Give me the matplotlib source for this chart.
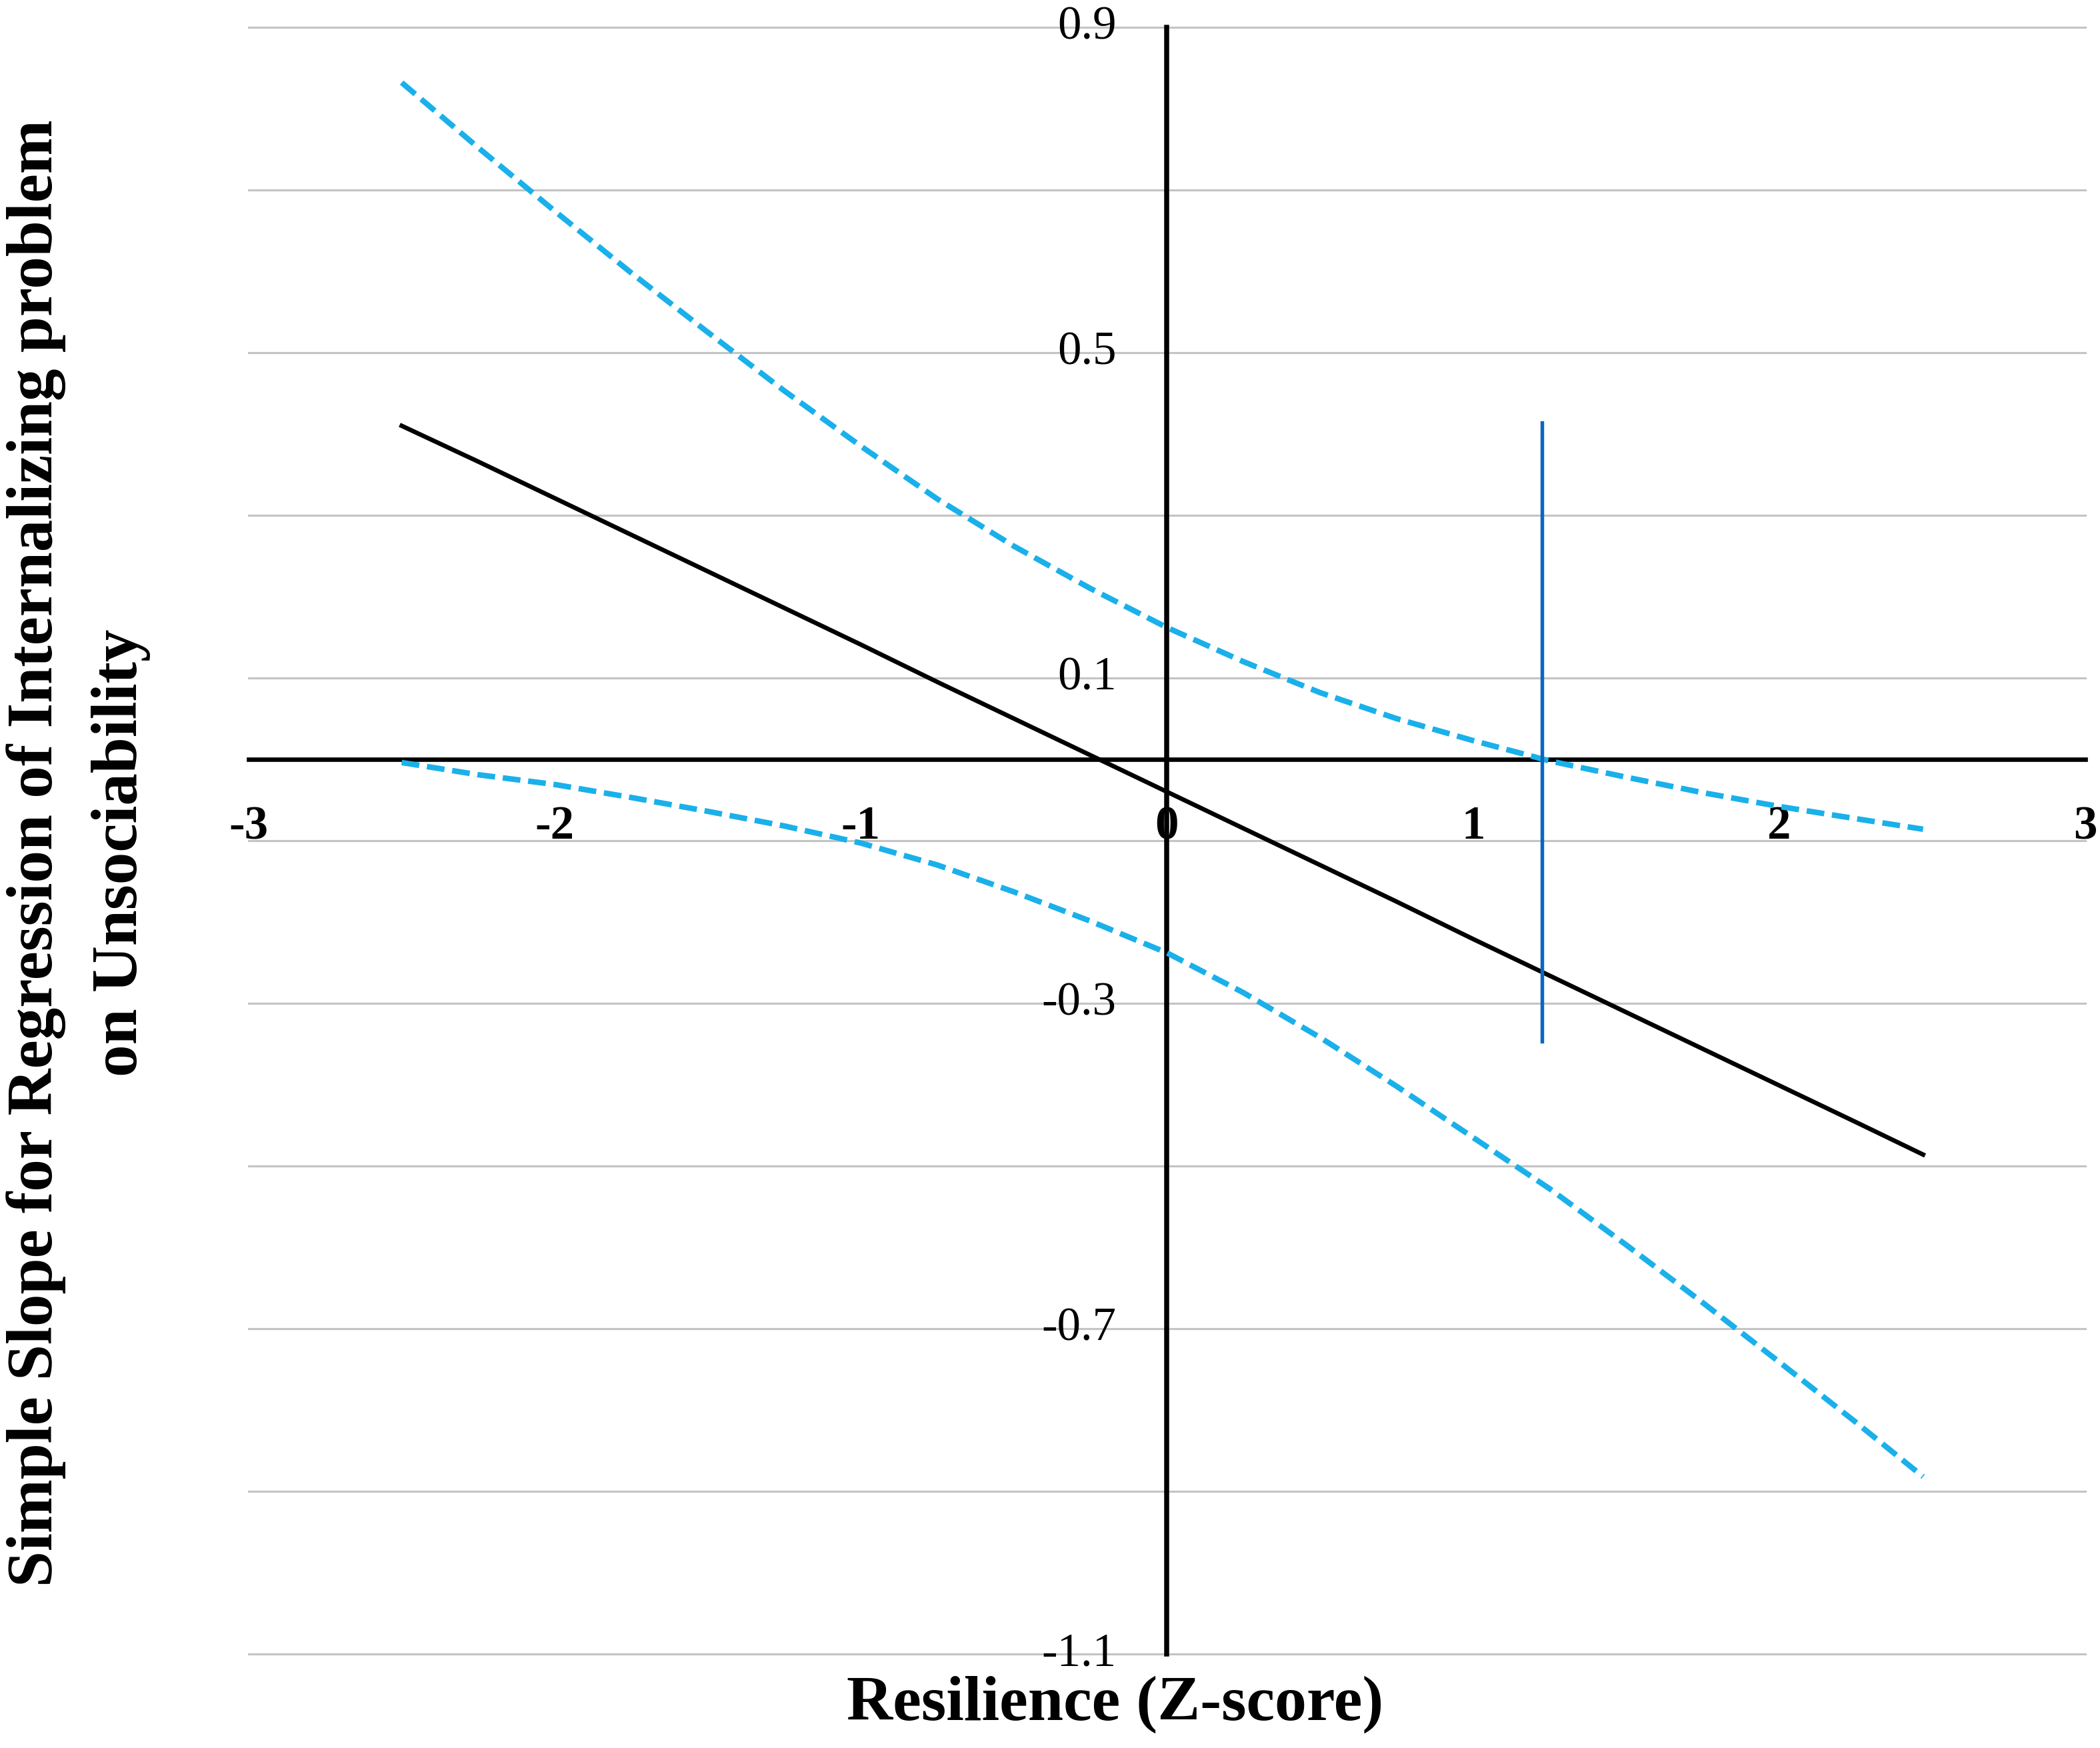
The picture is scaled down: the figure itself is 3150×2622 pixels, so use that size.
# -*- coding: utf-8 -*-
# Simple slope of internalizing problem on unsociability across resilience

import numpy as np
import matplotlib.pyplot as plt

# values
resilience = [-2.5, -2.25, -2.0, -1.75, -1.5, -1.25, -1.0, -0.75, -0.5, -0.25, 0.0,
              0.25, 0.5, 0.75, 1.0, 1.25, 1.5, 1.75, 2.0, 2.25, 2.47]
slope      = [0.41, 0.366, 0.321, 0.276, 0.231, 0.186, 0.141, 0.095, 0.05, 0.005, -0.04,
              -0.085, -0.13, -0.175, -0.221, -0.266, -0.311, -0.356, -0.401, -0.446, -0.486]
ci_upper   = [0.832, 0.752, 0.674, 0.598, 0.525, 0.453, 0.385, 0.32, 0.262, 0.21, 0.162,
              0.12, 0.082, 0.05, 0.023, -0.002, -0.022, -0.041, -0.058, -0.073, -0.086]
ci_lower   = [-0.004, -0.019, -0.031, -0.047, -0.064, -0.082, -0.103, -0.13, -0.163, -0.199, -0.238,
              -0.287, -0.342, -0.402, -0.465, -0.528, -0.597, -0.668, -0.741, -0.815, -0.882]

# region of significance marker
jn_x      = 1.225
jn_range  = [-0.347, 0.414]

x_ticks   = [-3, -2, -1, 0, 1, 2, 3]
y_grid    = [-1.1, -0.9, -0.7, -0.5, -0.3, -0.1, 0.1, 0.3, 0.5, 0.7, 0.9]
y_labels  = [0.9, 0.5, 0.1, -0.3, -0.7, -1.1]

plt.rcParams['font.family'] = ['Liberation Serif', 'DejaVu Serif']

fig = plt.figure(figsize=(10.5, 8.74), dpi=300)
ax = fig.add_axes([0.1184, 0.0538, 0.8746, 0.9306])
ax.set_xlim(-3, 3)
ax.set_ylim(-1.1, 0.9)
ax.axis('off')

# gridlines
for g in y_grid:
    ax.plot([-3, 3], [g, g], color='#c4c4c4', lw=0.75, zorder=1, clip_on=False)

# axes through the origin
ax.plot([-3, 3], [0, 0], color='black', lw=1.6, zorder=3, clip_on=False)
ax.plot([0, 0], [-1.1, 0.9], color='black', lw=1.8, zorder=3, clip_on=False)

# tick labels
for v in y_labels:
    ax.text(-0.165, v, '%.1f' % v, ha='right', va='center', fontsize=17, zorder=4)
for t in x_ticks:
    ax.text(t, -0.098, '%d' % t, ha='center', va='baseline', fontsize=17,
            fontweight='bold', zorder=4, clip_on=False)

# lines
ax.plot(resilience, ci_upper, color='#1ab0ea', lw=2.0, dashes=(3.2, 1.4), zorder=5)
ax.plot(resilience, ci_lower, color='#1ab0ea', lw=2.0, dashes=(3.2, 1.4), zorder=5)
ax.plot(resilience, slope, color='black', lw=1.6, zorder=6)
ax.plot([jn_x, jn_x], jn_range, color='#0a66c2', lw=1.3, zorder=7)

# axis titles
fig.text(0.0172, 0.512, 'Simple Slope for Regression of Internalizing problem',
         rotation=90, ha='center', va='center', fontsize=23.3, fontweight='bold')
fig.text(0.0575, 0.512, 'on Unsociability',
         rotation=90, ha='center', va='center', fontsize=23.3, fontweight='bold')
fig.text(0.531, 0.016, 'Resilience (Z-score)', ha='center', va='baseline',
         fontsize=23, fontweight='bold')

fig.savefig('out.png', dpi=300)
